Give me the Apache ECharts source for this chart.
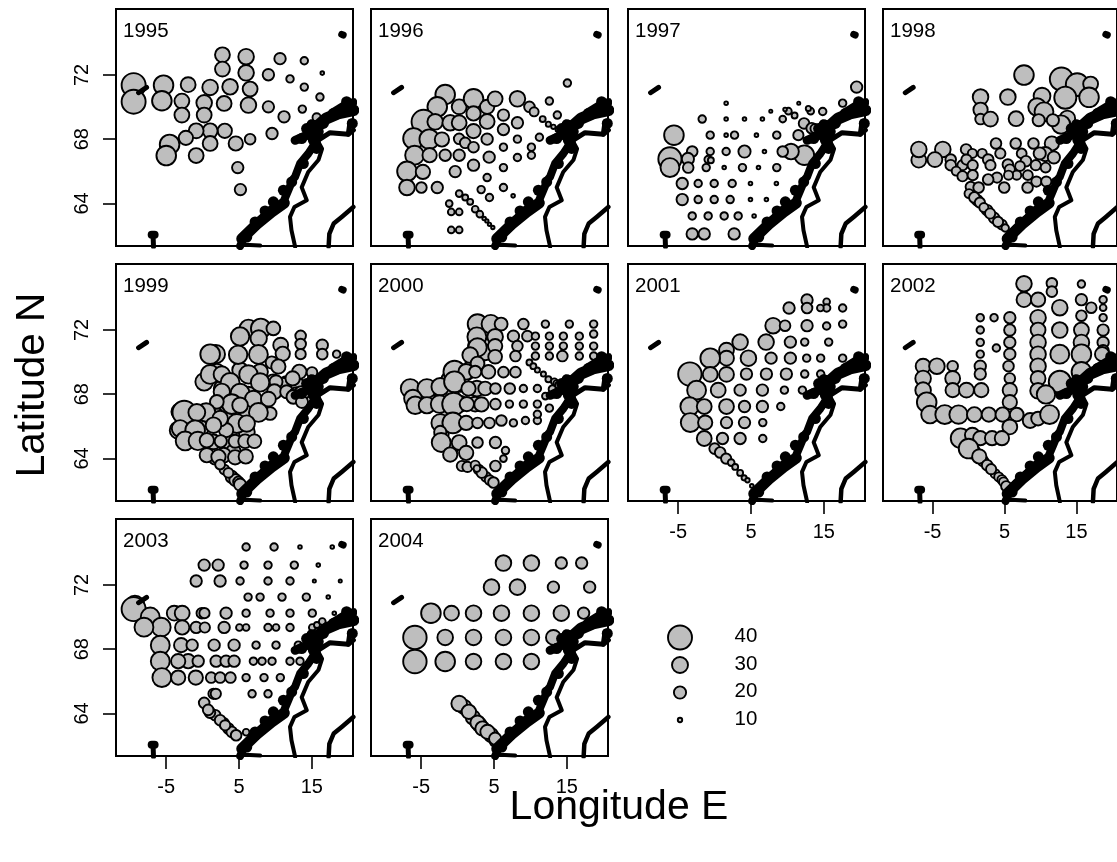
<!DOCTYPE html>
<html><head><meta charset="utf-8">
<style>html,body{margin:0;padding:0;background:#fff;overflow:hidden}#c{width:1117px;height:862px}</style>
<script src="https://cdn.jsdelivr.net/npm/echarts@6/dist/echarts.min.js"></script>
</head><body><div id="c"></div>
<script>
// each record: longitude E, latitude N, size value
const p1995=[[-9.48,71.36,40],[-9.48,70.33,40],[-5.37,71.36,34.5],[-5.6,70.39,34.5],[-1.99,71.39,27],[-2.85,70.37,27],[-2.85,69.5,27],[1.03,71.22,29],[0.21,70.26,29],[0.21,69.5,27],[3.77,71.26,29],[2.95,70.22,27],[2.72,73.25,27],[2.72,72.36,27],[5.97,73.13,29],[5.97,72.13,29],[6.52,71.12,27],[6.29,70.12,29],[9.03,72.01,19],[9.03,70.01,19],[10.63,73.01,19],[12,71.75,14],[13.96,72.88,14],[16.43,72.11,8.5],[13.96,71.24,14],[16.11,70.62,14],[13.69,69.87,14],[11.18,69.39,19],[15.66,69.35,15],[9.53,68.35,19],[6.52,68,18],[4.55,67.73,25.5],[3.04,68.52,25.5],[1.03,68.52,27],[-0.89,68.52,27],[-2.3,68.08,25.5],[1.03,67.73,27],[-4.54,67.67,34.5],[-5,66.98,34.5],[-0.89,66.98,27],[4.82,66.23,19],[5.19,64.86,19]];
const p1996=[[-1.71,70.78,34.5],[-2.8,70.01,34.5],[0.21,70.01,27],[2.18,70.51,34.5],[4.05,70.01,25.5],[5.15,70.51,27],[8.21,70.51,29],[9.86,70.01,18],[10.5,69.7,16],[12.6,70.37,14],[15.07,71.49,14],[13.69,69.5,14],[11.68,69.25,12],[12.46,68.93,11],[13.15,68.77,10],[13.83,68.6,11.5],[-4.68,69.08,40],[-3.08,69.08,29],[-1.02,69.02,29],[0.21,69.02,27],[2.18,69.6,25.5],[4.05,69.1,27],[6.29,69.5,19],[8.21,69.02,19],[6.29,68.6,19],[-6.05,68.04,36],[-3.9,68,34.5],[-2.16,67.98,25.5],[0.21,68.02,18],[1.04,67.77,18],[2.18,68.5,25.5],[2.18,67.5,18],[4.05,68,19],[8.21,68,14],[6.29,67.5,14],[11.23,68.12,14],[10.13,67.5,14],[10.13,67,14],[8.21,66.86,14],[-5.91,67,33.6],[-3.85,67,25.5],[-1.71,67,19],[0.21,67,19],[4.33,66.88,19],[2.18,66.38,19],[6.29,66.23,14],[-6.96,66,34.5],[-4.77,65.96,25.5],[-0.34,65.98,19],[4.05,65.61,14],[3.23,64.86,14],[6.29,64.99,14],[4.37,64.37,14],[7.62,64.47,8.5],[-6.96,64.99,29],[-4.98,64.99,18],[-2.8,64.99,19],[0.21,64.61,13],[1.04,64.37,12],[1.72,64.1,12],[2.41,63.64,13],[3.05,63.33,13],[3.64,63.06,8.5],[4.01,62.91,8],[4.37,62.7,8],[4.83,62.5,8],[-1.16,63.99,13],[-0.88,63.47,13],[0.21,63.47,13],[-0.88,62.35,13],[0.21,62.35,13]];
const p1997=[[19.5,71.24,19],[17.58,70.24,14],[11.55,70.24,7.5],[14.84,69.72,14],[13.19,69.74,13],[12.87,69.91,11],[10.13,69.74,13],[9.67,69.85,8.5],[7.71,69.74,7.5],[1.58,70.24,8.5],[10.98,69.47,12],[9.35,69.25,13],[6.56,69.25,8.5],[4.1,69.25,8.5],[1.58,69.25,8.5],[-1.71,69.25,14],[12.28,68.98,18],[13.33,68.68,18],[13.78,68.66,16],[11.5,68.25,17.5],[8.53,68.25,14],[5.74,68.25,8.5],[2.73,68.25,14],[1.58,68.25,8.5],[-0.61,68.25,14],[-5.59,68.25,34.5],[12.32,67,34.5],[10.49,67.23,29],[9.35,67.23,18],[4.1,67.23,20],[1.58,67.23,14],[6.84,67.23,8.5],[-0.61,67.23,14],[-3.08,67.23,18],[-6.14,66.77,39],[-3.67,66.77,20],[-0.89,66.73,14],[-0.52,66.69,12],[-6.14,66.23,33.6],[-3.63,66.23,18],[-1.16,66.23,14],[1.31,66.23,8.5],[3.82,66.23,14],[6.02,66.23,8.5],[8.53,66.23,14],[-4.45,65.24,19],[-2.26,65.24,14],[-0.06,65.24,14],[2.41,65.24,14],[4.92,65.24,8.5],[8.48,65.24,8.5],[-4.45,64.24,19],[-2.26,64.24,14],[-0.06,64.24,14],[2.13,64.24,14],[4.92,64.24,8.5],[7.11,64.24,8.5],[-3.08,63.22,14],[-0.89,63.22,14],[1.31,63.22,14],[3.23,63.22,14],[5.42,63.22,8.5],[-3.08,62.1,19],[-1.43,62.1,19],[2.68,62.1,19]];
const p1998=[[1.22,64.2,18],[2.59,63.58,18],[3.55,63.1,18],[4.64,62.68,17],[7.71,71.99,34.5],[12.92,71.74,39],[15.11,71.39,38.4],[16.98,71.43,27],[16.76,70.6,34.5],[13.46,70.58,37.6],[10.22,70.68,31],[9.53,70,32],[10.49,69.7,33.6],[13.74,69.29,29],[12.87,68.91,33],[1.67,70.62,29],[5.47,70.62,29],[1.67,69.83,25.5],[1.67,69.25,18],[3.05,69.25,27],[6.61,69.27,27],[9.76,69.18,20],[11.73,69.18,20],[11.59,67.73,25.5],[9.03,67.73,18],[6.56,67.73,18],[3.82,67.73,18],[10.68,67.07,25.5],[9.9,67.11,20],[11.87,66.86,20],[4.42,67.11,17.5],[7.39,67.11,17],[1.9,67.11,16],[-0.34,67.36,18],[0.53,67.11,16],[-6.92,66.69,27],[-6.92,67.36,29],[-3.58,67.36,29],[-4.68,66.73,27],[-2.48,66.73,18],[-2.48,66.38,18],[-0.84,66.38,17.5],[-0.29,66.73,17.5],[2.73,66.73,18],[0.58,66.38,17.5],[3.05,66.38,17.5],[5.47,66.42,18],[7.98,66.63,18],[7.16,66.32,17],[9.35,66.38,17.5],[10.72,66.23,17],[5.74,66.11,17.5],[-1.71,66.01,16],[-0.84,65.69,17.5],[0.58,65.76,17.5],[3.96,65.61,17.5],[6.7,65.76,16],[5.56,65.76,16],[8.25,65.76,17],[2.73,65.49,18],[9.44,65.36,17.5],[10.81,65.36,17.5],[4.96,64.99,18],[8.21,64.99,18],[0.3,65.03,17.5],[1.4,64.99,18],[0.07,64.61,16],[0.81,64.37,18],[1.58,64.05,17.5],[2.13,63.74,16],[3,63.37,17.5],[4.1,62.85,17.5],[5.1,62.47,14]];
const p1999=[[3,63.3,17],[4,62.85,20],[4.5,62.65,20],[1.7,64,20],[2.63,68.35,30],[4.23,67.52,31],[6.29,67.94,31],[5.6,66.9,31],[2.4,67.31,30],[3.77,66.28,31],[6.06,66.9,30],[7.43,67.52,29],[3.32,65.03,27],[1.49,65.03,27],[-0.34,65.86,31],[-3.08,66.9,32],[-3.31,65.76,32],[1.95,69.39,30],[5.14,69.5,29],[7.89,69.39,29],[9.71,68.77,27],[11.54,68.66,27],[13.22,68.46,29],[11,68.56,27],[2.86,66.69,31],[1.7,66.69,30],[5.14,65.65,30],[6.06,65.65,30],[4.23,64.41,27],[2.86,64.2,27],[6.29,72.09,32],[7.98,72.09,34.5],[9.71,72.09,24],[5.14,71.59,33],[7.7,71.47,30.4],[13.46,71.63,18],[13.46,71.12,18],[13.46,70.49,17.5],[16.43,71.05,19],[16.43,70.49,18],[18.4,70.49,14],[10.72,71.05,27],[11,70.51,25.5],[1.81,70.49,33],[1.03,70.49,34.5],[4.87,70.45,33],[7.66,70.47,33.6],[9.49,69.97,20],[10.4,69.72,25.5],[13.28,69.39,25.5],[15.02,69.35,18],[12.36,68.98,25.5],[10.08,68.77,22],[9.85,68.15,27],[11.54,68.15,22],[12.91,67.94,29],[13.6,68.04,27],[12.46,67.83,24],[13.64,67.52,20],[0.21,68.77,32],[1.03,69.23,33.6],[2.63,69.23,30.4],[3.77,68.73,33.6],[6.29,69.23,33],[7.89,68.73,33],[5.14,68.06,33.6],[2.63,68.15,30.4],[4,67.38,34.5],[6.97,67.69,31],[9.03,67.69,27],[9.26,66.8,22],[7.66,66.86,33.6],[1.95,67.52,24],[5.14,67.31,29],[-2.53,66.86,39.3],[0.48,66.86,33],[-0.8,66.86,31],[4.69,66.17,33.6],[6.06,66.17,30.4],[3.22,65.76,25.5],[2.4,66.48,29],[-3.08,65.86,31],[-1.03,65.76,34.5],[1.49,66.07,29],[-2.4,65.09,33.6],[-0.66,65.09,33],[0.57,65.13,25.5],[2.49,65.07,20],[4.46,65.07,22],[5.83,65.07,24],[7.11,65.07,24],[0.57,64.2,25.5],[2.17,64.1,25.5],[4.46,64.07,25.5],[5.92,64.12,25.5],[2.4,63.62,17],[3.54,63.1,17],[4.92,62.54,18],[5.14,62.37,20]];
const p2000=[[3.9,62.85,17],[4.4,62.65,17],[2.9,63.3,17],[-2.39,68.35,32],[1.26,69.39,30],[2.64,68.35,29],[-4.22,67.6,32],[0.35,67.4,30],[2.41,67.38,27],[2.64,71,32],[2.64,70.4,29],[2.1,69.8,29],[0.35,68.7,32],[-1.02,67.9,32],[-1.02,68.9,32],[-2.2,65.5,25],[-1.02,66.8,32],[4,71.2,29],[3.8,70.6,29],[4.2,71.9,29],[-1.02,64.6,27],[9.03,72.36,18],[12.05,72.36,14],[15.34,72.36,14],[18.68,72.36,14],[7.66,71.61,19],[9.58,71.61,18],[10.68,71.61,14],[12.6,71.61,14],[14.52,71.61,14],[16.71,71.61,14],[18.68,71.74,14],[8.21,70.99,18],[10.68,70.99,14],[12.6,70.99,14],[14.52,70.99,14],[16.71,70.99,14],[18.68,70.99,14],[7.94,70.37,18],[10.68,70.37,14],[12.6,70.37,14],[14.38,70.37,18],[16.71,70.37,14],[18.68,70.37,14],[9.86,69.97,12],[10.4,69.74,12],[10.95,69.5,11],[11.78,69.25,11],[12.46,68.93,12],[13.28,68.77,13],[13.6,68.66,13],[13.83,68.56,13],[13.01,68.31,14],[12.05,67.88,13],[12.6,67.13,14],[2.73,72.36,34.5],[4.55,72.36,33],[5.97,72.36,22],[2.64,71.57,33.6],[5.15,71.57,29],[2.73,70.91,33],[5.15,70.99,25.5],[5.15,70.33,24],[1.72,70.43,29],[2.73,69.91,24],[4.23,69.39,24],[-0.43,69.39,37.6],[1.17,69.39,29],[2.41,69.39,20],[6.29,69.37,18],[7.94,69.37,18],[-6.51,68.35,33.6],[-4.22,68.35,33.6],[-2.39,68.46,32],[-0.43,68.77,36],[1.49,68.35,25.5],[3.78,68.35,24],[5.19,68.35,18],[7.16,68.35,18],[9.03,68.35,14],[10.95,68.35,14],[-6.14,67.73,32],[-5.82,67.31,32],[-4.22,67.31,30.4],[-2.48,67.38,32],[-0.56,67.38,38.4],[1.26,67.38,25.5],[3.27,67.36,25.5],[5.19,67.38,18],[7.11,67.38,14],[9.03,67.38,14],[10.95,67.38,14],[-2.39,66.21,32],[-0.66,66.21,36],[1.17,66.21,25.5],[2.73,66.21,18],[4.37,66.21,18],[6.01,66.36,18],[7.66,66.21,14],[9.31,66.36,14],[10.95,66.36,14],[10.95,66.75,14],[-2.39,65.65,20],[-2.26,64.99,33.6],[0.21,64.99,27],[2.73,64.99,18],[5.19,64.99,19],[-1.02,64.24,25.5],[1.17,64.34,25.5],[6.57,64.49,14],[6.29,63.99,13],[5.19,63.53,18],[0.58,63.53,17.5],[1.35,63.47,17.5],[2.41,63.58,16],[3.32,63.12,18],[4.92,62.5,18],[2.64,63.37,13]];
const p2001=[[12.69,73.86,19],[12.69,73.36,18],[10.22,73.36,19],[15.38,73.75,13],[15.38,73.36,14],[14.52,73.36,13],[17.58,73.36,14],[8.03,72.26,29],[9.67,72.26,18],[12.69,72.26,19],[15.38,72.24,14],[17.58,72.36,14],[3.5,71.24,29],[7.07,71.24,29],[10.4,71.24,19],[12.37,71.24,14],[15.66,71.24,14],[1.63,70.74,27],[1.63,70.24,27],[-0.61,70.24,34.5],[4.64,70.24,29],[7.75,70.24,19],[10.4,70.24,19],[12.64,70.24,14],[14.56,70.24,14],[17.58,70.24,14],[-3.4,69.25,39.3],[-0.61,69.23,27],[1.63,69.23,27],[4.37,69.25,19],[7.11,69.25,19],[9.85,69.25,19],[12.37,69.25,14],[14.56,69.25,14],[-2.48,68.25,33.6],[0.49,68.25,27],[3.5,68.25,19],[6.56,68.25,19],[9.58,68.25,14],[12.05,68.25,14],[-3.44,67.23,33],[-1.43,67.23,27],[1.63,67.23,27],[4.1,67.23,19],[6.56,67.23,19],[9.08,67.23,14],[-3.35,66.23,33.6],[-1.3,66.23,25.5],[1.63,66.23,19],[4.1,66.23,19],[6.61,66.23,14],[-1.43,65.24,27],[1.08,65.24,19],[3.5,65.24,19],[6.61,65.24,14],[0,64.61,18],[0.76,64.37,18],[1.58,63.99,17.5],[2.27,63.74,13],[2.82,63.47,12],[3.5,63.1,12],[4.05,62.79,11],[4.51,62.64,10],[5.1,62.29,8.5]];
const p2002=[[0.7,64.4,24],[2,63.85,18],[3.7,63.05,16],[4.2,62.85,16],[7.71,74.87,29],[11.59,74.9,18],[15.7,74.85,14],[11.59,74.38,18],[7.71,73.88,27],[9.67,73.88,25.5],[15.7,73.88,19],[18.72,73.88,14],[17.07,73.38,18],[18.72,73.38,13],[12.69,73.38,29],[9.67,72.76,29],[15.7,72.88,18],[18.72,72.76,14],[1.63,72.76,14],[3.55,72.76,14],[5.74,72.76,19],[5.74,71.99,19],[1.63,71.99,14],[9.67,71.99,27],[12.69,71.99,29],[15.7,71.99,27],[18.72,71.99,19],[5.74,71.22,19],[1.63,71.22,14],[3.87,70.87,14],[9.67,71.22,29],[15.7,71.22,29],[18.72,71.22,19],[18.72,70.7,19],[18.58,70.49,25.5],[5.74,70.49,19],[1.63,70.49,14],[9.67,70.49,29],[12.69,70.49,33.6],[15.7,70.49,34.5],[1.63,69.74,19],[5.56,69.74,18],[9.67,69.74,29],[15.7,69.39,34.5],[-6.32,69.74,27],[-4.4,69.74,29],[-2.21,69.74,18],[1.63,69.25,19],[-6.32,68.98,29],[-2.21,68.98,27],[5.74,68.98,18],[9.67,68.98,27],[12.69,68.77,37.6],[-6.32,68.25,29],[-2.21,68.25,25.5],[-0.29,68.25,27],[1.77,68.25,25.5],[5.74,68.25,25.5],[9.67,68.21,29],[10.77,67.98,33],[-5.82,67.5,34.5],[5.74,67.5,25.5],[-5.36,66.73,32],[-3.31,66.73,33.6],[-1.39,66.73,33],[0.81,66.73,27],[2.82,66.73,25.5],[4.74,66.73,25.5],[6.7,66.73,24],[8.57,66.36,27],[9.67,66.48,24],[11.27,66.73,33.6],[5.74,65.96,27],[-1.11,65.26,34.5],[0.53,65.45,27],[1.63,65.26,25.5],[3.27,65.26,25.5],[4.64,65.26,25.5],[0,64.61,34.5],[1.49,64.12,25.5],[2.59,63.58,18],[3.14,63.33,17.5],[4.64,62.68,16],[4.87,62.54,16],[5.24,62.27,17.5]];
const p2003=[[1.72,63.89,18],[3.54,63.06,18],[4,62.85,18],[1,64.05,18],[2.9,63.4,17.5],[5.97,74.36,14],[9.81,74.36,14],[13.37,74.36,8.5],[17.8,74.36,8.5],[0.21,73.23,19],[2.13,73.23,19],[5.69,73.23,14],[8.98,73.23,14],[12.59,73.23,14],[15.88,73.23,8.5],[-0.89,72.24,19],[2.4,72.24,19],[5.14,72.24,14],[8.98,72.24,14],[12,72.24,14],[15.34,72.24,7.5],[18.9,72.24,7.5],[6.24,71.24,14],[7.89,71.24,14],[10.9,71.24,14],[14.24,71.24,14],[17.25,71.24,8.5],[-9.3,70.74,33.6],[-9.48,70.49,40],[-7.2,70,33.6],[-5.69,69.37,33.6],[-8.06,69.37,33.6],[-3.9,70.24,27],[-2.81,70.24,27],[-0.11,70.24,18],[0.25,70.24,17.5],[3.22,70.24,19],[5.97,70.24,14],[9.26,70.24,14],[12,70.24,14],[15.06,70.24,14],[18.08,70.24,8.5],[-2.81,69.35,25.5],[-0.89,69.35,19],[0.3,69.35,17.5],[2.95,69.35,19],[5.05,69.35,13],[5.97,69.35,13],[8.98,69.35,14],[10.08,69.35,13],[12,69.35,14],[15.06,69.35,13],[15.7,69.5,12],[16.43,69.72,13],[-5.82,68.25,33.6],[-2.95,68.25,25.5],[-1.44,68.25,19],[1.58,68.25,19],[4.32,68.25,19],[7.34,68.25,14],[10.08,68.25,14],[13.14,68.25,14],[-5.82,67.25,33.6],[-1.99,67.25,25.5],[-3.36,67.25,25.5],[-0.61,67.25,19],[1.85,67.25,19],[3.22,67.25,19],[4.32,67.25,19],[6.97,67.25,14],[8.16,67.25,14],[9.53,67.25,14],[12,67.25,14],[13.37,67.25,14],[-5.6,66.23,33.6],[-3.36,66.23,25.5],[-0.94,66.23,25.5],[1.17,66.23,18],[2.4,66.23,18],[3.82,66.23,18],[5.97,66.23,14],[8.43,66.23,14],[10.67,66.23,14],[1.49,65.22,17.5],[1.81,65.22,17.5],[6.79,65.22,14],[8.98,65.22,14],[0.21,64.66,18],[0.76,64.22,18],[2.4,63.58,18],[3.09,63.26,17.5],[4.6,62.64,18],[5.97,62.83,13]];
const p2004=[[0.9,64.4,25.5],[2.1,63.75,25.5],[3,63.3,25.5],[4.6,62.65,25],[5.2,62.3,20],[6.29,73.36,29],[10.13,73.36,29],[14.24,73.36,19],[17.03,73.36,19],[4.65,71.86,29],[8.21,71.86,29],[13.15,71.86,19],[18.13,71.86,19],[-3.67,70.24,34.5],[-0.84,70.24,27],[2.18,70.24,29],[6.02,70.24,29],[10.13,70.24,29],[14.24,70.24,29],[17.3,70.24,19],[-5.87,68.73,39.3],[-1.71,68.73,29],[2.18,68.73,29],[6.29,68.73,29],[10.13,68.73,29],[13.15,68.73,27],[-5.87,67.23,39.3],[-1.71,67.23,34.5],[2.18,67.23,29],[6.29,67.23,29],[10.13,67.23,29],[0.21,64.61,29],[1.54,64.1,25.5],[2.73,63.43,25.5],[3.41,63.06,25.5],[4.1,62.85,25.5],[5.15,62.43,20]];

const coastMain=[[5.15,61.35],[5.6,61.8],[7.43,62.75],[9.26,63.58],[11.09,64.1],[11.77,64.82],[12.4,65.5],[12.69,65.65],[13.38,66.48],[14.51,67.1],[15.43,67.73],[15.56,68.46]];
const coastSkerries=[[5.37,61.8],[7.43,62.7],[9.49,63.47],[11.22,64.03]];
const coastBase=[[5.1,61.45],[7.9,61.38]];
const coastNorth=[[15.43,68.66],[16.98,69.29],[18.58,69.6],[20.7,69.8]];
const coastCape=[[17.96,69.7],[19.8,70.2],[20.7,70.3]];
const coastLofoten=[[12.7,67.93],[14.56,68.29],[15.7,68.56]];
const coastMass=[[15,68.9],[15.4,68.2],[15.5,67.5]];
const coastBorder=[[12.7,61.3],[12.2,62.33],[12,63.16],[12.6,63.78],[14.3,64.2],[13.6,65],[14.5,65.96],[15.9,66.7],[16.4,67.4],[15.8,67.9]];
const coastLoop=[[16.1,68],[17.5,68.4],[20,68.31],[20.7,68.56]];
const coastNose=[[20,68.31],[20.25,69.08]];
const coastEast=[[17.3,61.3],[17.4,62.1],[18,62.75],[19.1,63.16],[20.7,63.78]];
const janMayen=[[-8.8,70.89],[-7.7,71.22]];
const bearIsland=[[19.1,74.52],[19.3,74.48]];
const faroeTop=[[-7,62.05],[-6.6,62.05]];
const faroeStem=[[-6.8,61.9],[-6.75,61.3]];
const coastIslands=[[6.06,61.91],[7.2,62.85],[8.57,63.53],[11.09,64.82],[9.71,64.1],[13.6,68.04],[14.28,68.66],[15.2,68.87],[15.88,68.46],[16.57,68.98],[15.2,67.94],[15.66,67.42],[13.83,66.48],[12.23,65.34],[19.77,70.33],[17.94,69.6],[19.54,69.81],[20.55,68.98]];

const years=['1995','1996','1997','1998','1999','2000','2001','2002','2003','2004'];
const yearData=[p1995,p1996,p1997,p1998,p1999,p2000,p2001,p2002,p2003,p2004];
const lonTicks=[-5,5,15];
const latTicks=[64,68,72];
const legendValues=[40,30,20,10];
const legendRows=[4,3,2,1];

const sizeValues=[6,10,20,30,40,45];
const sizePixels=[2.4,4.4,12.2,16,24,28];
function sizeOf(v){
  for(let i=1;i<sizeValues.length;i++){
    if(v<=sizeValues[i]){const t=(v-sizeValues[i-1])/(sizeValues[i]-sizeValues[i-1]);return sizePixels[i-1]+t*(sizePixels[i]-sizePixels[i-1]);}
  }
  return sizePixels[sizePixels.length-1];
}
const font='"Liberation Sans",Arial,sans-serif';
const lefts=[116,371,628,883], tops=[9,264,519];
const grid=[],xAxis=[],yAxis=[],series=[],title=[];
const showX=[6,7,8,9], showY=[0,4,8];
const coastSets=[[coastMain,8],[coastSkerries,11],[coastBase,4],[coastNorth,12],[coastCape,8],[coastLofoten,9],[coastMass,11],[coastBorder,4],[coastLoop,5],[coastNose,5],[coastEast,4.5],[janMayen,5],[bearIsland,7],[faroeTop,8],[faroeStem,5]];
years.forEach((y,i)=>{
  const L=lefts[i%4],T=tops[Math.floor(i/4)];
  grid.push({left:L,top:T,width:237,height:237,show:true,borderColor:'#000',borderWidth:2,backgroundColor:'transparent',containLabel:false});
  const sx=showX.includes(i),sy=showY.includes(i);
  xAxis.push({gridIndex:i,type:'value',position:'bottom',min:-11.9,max:20.65,splitLine:{show:false},axisLine:{show:false,onZero:false},
    axisTick:{show:sx,length:13,lineStyle:{color:'#000',width:1.6},customValues:lonTicks},
    axisLabel:{show:sx,margin:21,fontSize:20,color:'#000',fontFamily:font,customValues:lonTicks}});
  yAxis.push({gridIndex:i,type:'value',position:'left',min:61.35,max:76.1,splitLine:{show:false},axisLine:{show:false,onZero:false},
    axisTick:{show:sy,length:13,lineStyle:{color:'#000',width:1.6},customValues:latTicks},
    axisLabel:{show:sy,margin:24,fontSize:20,rotate:90,color:'#000',fontFamily:font,customValues:latTicks}});
  series.push({type:'scatter',xAxisIndex:i,yAxisIndex:i,data:yearData[i],symbol:'circle',clip:true,animation:false,silent:true,
    symbolSize:d=>sizeOf(d[2]),itemStyle:{color:'#bebebe',opacity:1,borderColor:'#000',borderWidth:1.9},z:3});
  coastSets.forEach(([pts,w])=>series.push({type:'line',xAxisIndex:i,yAxisIndex:i,data:pts,showSymbol:false,symbol:'none',clip:true,animation:false,silent:true,
    lineStyle:{color:'#000',width:w,cap:'round',join:'round'},z:4}));
  series.push({type:'scatter',xAxisIndex:i,yAxisIndex:i,data:coastIslands,symbol:'circle',symbolSize:11,clip:true,animation:false,silent:true,itemStyle:{color:'#000',opacity:1},z:4});
  title.push({text:y,left:L+7,top:T+12,padding:0,textStyle:{fontSize:20.5,fontWeight:'normal',color:'#000',fontFamily:font}});
});
// size key
grid.push({left:640,top:610,width:130,height:137.5,show:false});
xAxis.push({gridIndex:10,type:'value',min:640,max:770,show:false});
yAxis.push({gridIndex:10,type:'value',min:0,max:5,show:false});
series.push({type:'scatter',xAxisIndex:10,yAxisIndex:10,animation:false,silent:true,clip:false,
  data:legendValues.map((v,i)=>[680,legendRows[i],v]),symbolSize:d=>sizeOf(d[2]),
  itemStyle:{color:'#bebebe',opacity:1,borderColor:'#000',borderWidth:1.9}});
series.push({type:'scatter',xAxisIndex:10,yAxisIndex:10,animation:false,silent:true,clip:false,
  data:legendValues.map((v,i)=>[734,legendRows[i],v]),symbolSize:1,itemStyle:{color:'transparent',borderWidth:0,opacity:1},
  label:{show:true,position:'right',distance:0,offset:[0,-1],formatter:p=>String(p.value[2]),fontSize:20.5,color:'#000',fontFamily:font}});

const chart=echarts.init(document.getElementById('c'),null,{renderer:'canvas',width:1117,height:862});
chart.setOption({animation:false,backgroundColor:'#fff',title,grid,xAxis,yAxis,series,
  graphic:[
    {type:'text',x:33,y:385,rotation:Math.PI/2,style:{text:'Latitude N',font:'40.5px '+font,fill:'#000',textAlign:'center',textVerticalAlign:'middle'}},
    {type:'text',x:619,y:808,style:{text:'Longitude E',font:'41px '+font,fill:'#000',textAlign:'center',textVerticalAlign:'middle'}}
  ]});
</script></body></html>
